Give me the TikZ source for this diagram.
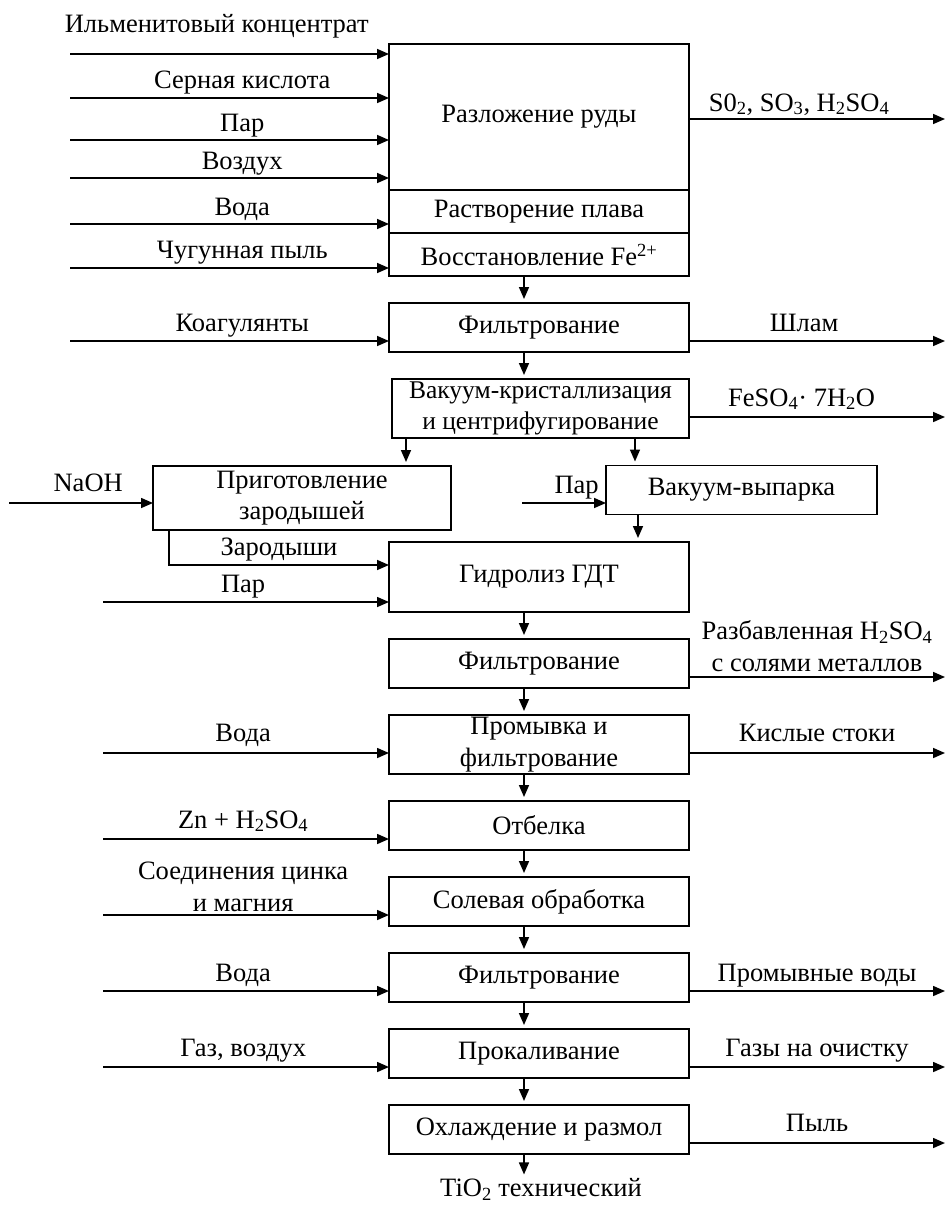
\documentclass[tikz,border=0pt]{standalone}
\usepackage{fontspec}
\setmainfont{Liberation Serif}
\usetikzlibrary{arrows.meta, positioning}
\newcommand{\fs}{\fontsize{26.5}{31.5}\selectfont}

\begin{document}
\begin{tikzpicture}[
    x=1pt, y=-1pt,
    node distance=27pt,
    block/.style={
        rectangle,
        draw=black,
        line width=1.3pt,
        minimum width=300pt,
        minimum height=49pt,
        inner sep=0pt,
        outer sep=0pt,
        align=center,
        font=\fs
    },
    lbl/.style={font=\fs, inner sep=0pt, anchor=south, text depth=0pt, align=center},
    line/.style={draw=black, line width=1.6pt, -{Triangle[length=12pt, width=10pt]}},
    down/.style={line, shorten >=4pt}
]
    \useasboundingbox (0,0) rectangle (947,1205);

    % main column
    \node [block, minimum height=146pt] (razl) at (539,117) {Разложение руды};
    \node [block, minimum height=43pt, below=0pt of razl] (rastv) {Растворение плава};
    \node [block, minimum height=43pt, below=0pt of rastv] (vost) {Восстановление Fe\textsuperscript{2+}};
    \node [block, below=of vost] (filt1) {Фильтрование};
    \node [block, minimum width=297pt, minimum height=59pt, below=of filt1, xshift=1.5pt,
           font=\fontsize{25.5}{31.5}\selectfont] (vak) {Вакуум-кристаллизация\\и центрифугирование};
    \node [block, minimum width=298pt, minimum height=64pt] (prig) at (302,498) {Приготовление\\зародышей};
    \node [block, minimum width=271pt] (vyp) at (741.5,490) {Вакуум-выпарка};
    \node [block, minimum height=70pt, below=104pt of vak, xshift=-1.5pt] (gidr) {Гидролиз ГДТ};
    \node [block, below=of gidr] (filt2) {Фильтрование};
    \node [block, minimum height=59pt, below=of filt2] (prom) {Промывка и\\фильтрование};
    \node [block, below=of prom] (otb) {Отбелка};
    \node [block, below=of otb] (sol) {Солевая обработка};
    \node [block, below=of sol] (filt3) {Фильтрование};
    \node [block, below=of filt3] (prok) {Прокаливание};
    \node [block, below=of prok] (ohl) {Охлаждение и размол};
    \node [lbl] (tio) at (541,1197) {TiO\textsubscript{2} технический};

    % columns of the down arrows
    \coordinate (axis) at (524,0);
    \coordinate (ax1) at (406,0);
    \coordinate (ax2) at (635,0);
    \coordinate (ax3) at (638,0);
    \coordinate (zx) at (169,0);

    % free ends, left
    \coordinate (in1) at (70,54);
    \coordinate (in2) at (70,98);
    \coordinate (in3) at (70,140);
    \coordinate (in4) at (70,178);
    \coordinate (in5) at (70,224);
    \coordinate (in6) at (70,268);
    \coordinate (in7) at (70,341);
    \coordinate (in8) at (9,503);
    \coordinate (in9) at (522,503);
    \coordinate (in10) at (103,602);
    \coordinate (in11) at (103,753);
    \coordinate (in12) at (103,839);
    \coordinate (in13) at (103,915);
    \coordinate (in14) at (103,991);
    \coordinate (in15) at (103,1067);

    % free ends, right
    \coordinate (out1) at (945,119);
    \coordinate (out2) at (945,341);
    \coordinate (out3) at (945,417);
    \coordinate (out4) at (945,677);
    \coordinate (out5) at (945,753);
    \coordinate (out6) at (945,991);
    \coordinate (out7) at (945,1067);
    \coordinate (out8) at (945,1143);

    % inputs
    \path [line] (in1) -- (in1 -| razl.west) node [lbl, pos=.46, yshift=21pt] {Ильменитовый концентрат};
    \path [line] (in2) -- (in2 -| razl.west) node [lbl, pos=.54, yshift=9pt] {Серная кислота};
    \path [line] (in3) -- (in3 -| razl.west) node [lbl, pos=.54, yshift=8pt] {Пар};
    \path [line] (in4) -- (in4 -| razl.west) node [lbl, pos=.54, yshift=8pt] {Воздух};
    \path [line] (in5) -- (in5 -| rastv.west) node [lbl, pos=.54, yshift=8pt] {Вода};
    \path [line] (in6) -- (in6 -| vost.west) node [lbl, pos=.54, yshift=9pt] {Чугунная пыль};
    \path [line] (in7) -- (in7 -| filt1.west) node [lbl, pos=.54, yshift=9pt] {Коагулянты};
    \path [line] (in8) -- (in8 -| prig.west) node [lbl, pos=.55, yshift=11pt] {NaOH};
    \path [line] (in9) -- (in9 -| vyp.west) node [lbl, pos=.65, yshift=9pt] {Пар};
    \path [line] (prig.south -| zx) |- ([yshift=-23pt]gidr.north west) node [lbl, pos=.75, yshift=9pt] {Зародыши};
    \path [line] (in10) -- (in10 -| gidr.west) node [lbl, pos=.49, yshift=8.5pt] {Пар};
    \path [line] (in11) -- (in11 -| prom.west) node [lbl, pos=.49, yshift=11pt] {Вода};
    \path [line] (in12) -- (in12 -| otb.west) node [lbl, pos=.49, yshift=10pt] {Zn + H\textsubscript{2}SO\textsubscript{4}};
    \path [line] (in13) -- (in13 -| sol.west) node [lbl, pos=.49, yshift=3pt] {Соединения цинка\\и магния};
    \path [line] (in14) -- (in14 -| filt3.west) node [lbl, pos=.49, yshift=9pt] {Вода};
    \path [line] (in15) -- (in15 -| prok.west) node [lbl, pos=.49, yshift=10pt] {Газ, воздух};

    % outputs
    \path [line] (out1 -| razl.east) -- (out1) node [lbl, pos=.43, yshift=7pt] {S0\textsubscript{2}, SO\textsubscript{3}, H\textsubscript{2}SO\textsubscript{4}};
    \path [line] (out2 -| filt1.east) -- (out2) node [lbl, pos=.45, yshift=9pt] {Шлам};
    \path [line] (out3 -| vak.east) -- (out3) node [lbl, pos=.44, yshift=10pt] {FeSO\textsubscript{4}· 7H\textsubscript{2}O};
    \path [line] (out4 -| filt2.east) -- (out4) node [lbl, pos=.5, yshift=5pt] {Разбавленная H\textsubscript{2}SO\textsubscript{4}\\с солями металлов};
    \path [line] (out5 -| prom.east) -- (out5) node [lbl, pos=.5, yshift=11pt] {Кислые стоки};
    \path [line] (out6 -| filt3.east) -- (out6) node [lbl, pos=.5, yshift=9pt] {Промывные воды};
    \path [line] (out7 -| prok.east) -- (out7) node [lbl, pos=.5, yshift=10pt] {Газы на очистку};
    \path [line] (out8 -| ohl.east) -- (out8) node [lbl, pos=.5, yshift=11pt] {Пыль};

    % down the column
    \path [down] (vost.south -| axis) -- (filt1.north -| axis);
    \path [down] (filt1.south -| axis) -- (vak.north -| axis);
    \path [down] (vak.south -| ax1) -- (prig.north -| ax1);
    \path [down] (vak.south -| ax2) -- (vyp.north -| ax2);
    \path [down] (vyp.south -| ax3) -- (gidr.north -| ax3);
    \path [down] (gidr.south -| axis) -- (filt2.north -| axis);
    \path [down] (filt2.south -| axis) -- (prom.north -| axis);
    \path [down] (prom.south -| axis) -- (otb.north -| axis);
    \path [down] (otb.south -| axis) -- (sol.north -| axis);
    \path [down] (sol.south -| axis) -- (filt3.north -| axis);
    \path [down] (filt3.south -| axis) -- (prok.north -| axis);
    \path [down] (prok.south -| axis) -- (ohl.north -| axis);
    \path [down] (ohl.south -| axis) -- (tio.north -| axis);
\end{tikzpicture}
\end{document}
